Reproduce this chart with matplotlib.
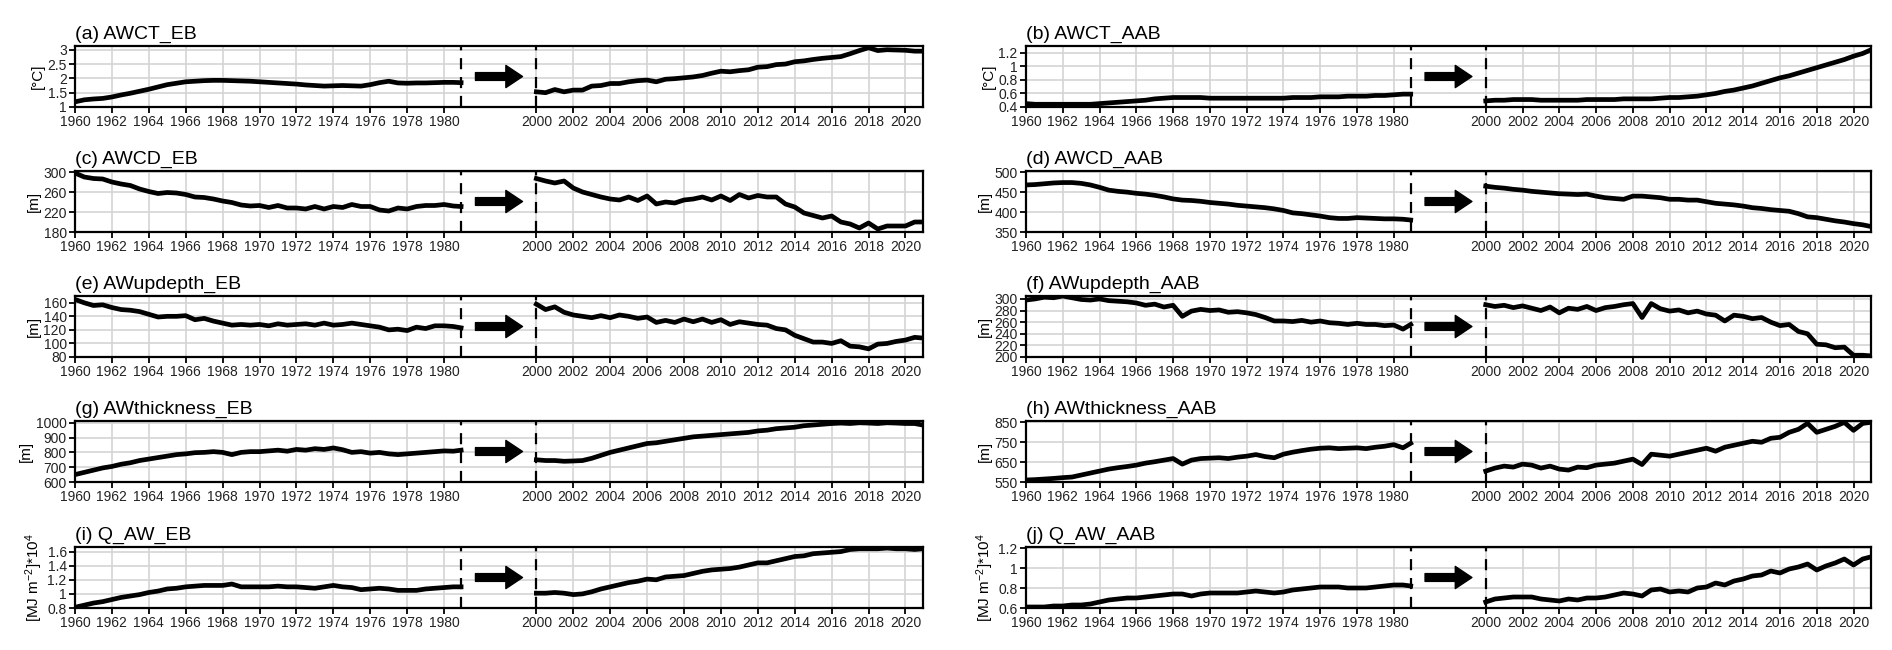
import numpy as np
import matplotlib
matplotlib.use("Agg")
import matplotlib.pyplot as plt
from matplotlib.ticker import FuncFormatter

plt.rcParams['font.family'] = ['Liberation Sans', 'DejaVu Sans']
plt.rcParams['mathtext.default'] = 'regular'

# ---------------- time axes (half-yearly readings) ----------------
t_early = [1960.0 + 0.5 * i for i in range(42)] + [1980.92]
t_late = [2000.0 + 0.5 * i for i in range(42)] + [2020.92]

# ---------------- series ----------------
awct_eb_early = [1.18, 1.25, 1.28, 1.30, 1.35, 1.42, 1.48, 1.55, 1.62, 1.70, 1.78, 1.83, 1.88, 1.90,
                 1.92, 1.93, 1.93, 1.92, 1.91, 1.90, 1.88, 1.86, 1.84, 1.82, 1.80, 1.77, 1.75, 1.73,
                 1.74, 1.75, 1.74, 1.73, 1.78, 1.85, 1.90, 1.84, 1.83, 1.84, 1.84, 1.85, 1.86, 1.86, 1.85]
awct_eb_late = [1.53, 1.50, 1.61, 1.53, 1.59, 1.59, 1.73, 1.75, 1.82, 1.82, 1.88, 1.92, 1.94, 1.88,
                1.97, 1.99, 2.02, 2.05, 2.10, 2.18, 2.25, 2.23, 2.27, 2.30, 2.39, 2.41, 2.48, 2.50,
                2.58, 2.61, 2.66, 2.70, 2.73, 2.76, 2.86, 2.97, 3.07, 2.97, 3.00, 2.99, 2.98, 2.95, 2.95]

awct_aab_early = [0.45, 0.44, 0.44, 0.44, 0.44, 0.44, 0.44, 0.44, 0.45, 0.46, 0.47, 0.48, 0.49, 0.50,
                  0.52, 0.53, 0.54, 0.54, 0.54, 0.54, 0.53, 0.53, 0.53, 0.53, 0.53, 0.53, 0.53, 0.53,
                  0.53, 0.54, 0.54, 0.54, 0.55, 0.55, 0.55, 0.56, 0.56, 0.56, 0.57, 0.57, 0.58, 0.59, 0.59]
awct_aab_late = [0.49, 0.50, 0.50, 0.51, 0.51, 0.51, 0.50, 0.50, 0.50, 0.50, 0.50, 0.51, 0.51, 0.51,
                 0.51, 0.52, 0.52, 0.52, 0.52, 0.53, 0.54, 0.54, 0.55, 0.56, 0.58, 0.60, 0.63, 0.65,
                 0.68, 0.71, 0.75, 0.79, 0.83, 0.86, 0.90, 0.94, 0.98, 1.02, 1.06, 1.10, 1.15, 1.19, 1.24]

awcd_eb_early = [298, 290, 287, 286, 280, 276, 273, 266, 261, 257, 259, 258, 255, 250,
                 249, 246, 242, 239, 234, 232, 233, 229, 233, 228, 228, 226, 231, 226,
                 231, 229, 235, 231, 231, 224, 222, 228, 226, 231, 233, 233, 235, 232, 231]
awcd_eb_late = [287, 282, 278, 282, 268, 260, 255, 250, 246, 244, 250, 243, 252, 236,
                240, 238, 244, 246, 250, 244, 252, 243, 255, 248, 253, 250, 250, 236,
                230, 218, 213, 208, 212, 200, 196, 188, 198, 186, 192, 192, 192, 200, 200]

awcd_aab_early = [468, 469, 471, 473, 474, 474, 472, 468, 462, 455, 452, 450, 447, 445,
                  442, 438, 433, 430, 429, 427, 424, 422, 420, 417, 415, 413, 411, 408,
                  404, 398, 396, 393, 390, 386, 384, 384, 386, 385, 384, 383, 383, 382, 380]
awcd_aab_late = [465, 462, 460, 457, 455, 452, 450, 448, 446, 445, 444, 445, 440, 436,
                 434, 432, 440, 440, 438, 436, 432, 432, 430, 430, 426, 422, 420, 418,
                 415, 411, 409, 406, 404, 402, 396, 388, 386, 382, 378, 375, 371, 368, 364]

awup_eb_early = [165, 160, 156, 157, 153, 150, 149, 147, 143, 139, 140, 140, 141, 135,
                 137, 133, 130, 127, 128, 127, 128, 126, 129, 127, 128, 129, 127, 130,
                 127, 128, 130, 128, 126, 124, 120, 121, 119, 124, 122, 126, 126, 125, 123]
awup_eb_late = [158, 150, 154, 146, 142, 140, 138, 141, 138, 142, 140, 137, 139, 131,
                134, 131, 136, 132, 136, 131, 135, 128, 132, 130, 128, 127, 122, 120,
                112, 107, 102, 102, 100, 104, 96, 95, 92, 99, 100, 103, 105, 109, 108]

awup_aab_early = [298, 300, 303, 302, 305, 302, 299, 298, 300, 297, 296, 295, 293, 289,
                  291, 286, 289, 270, 279, 282, 280, 281, 277, 278, 276, 273, 268, 262,
                  262, 261, 263, 260, 262, 259, 258, 256, 258, 256, 256, 254, 255, 248, 256]
awup_aab_late = [290, 287, 289, 285, 288, 284, 280, 286, 276, 284, 282, 287, 280, 285,
                 287, 290, 292, 268, 292, 283, 279, 281, 276, 279, 274, 272, 262, 272,
                 270, 266, 268, 260, 254, 256, 244, 240, 222, 221, 216, 217, 203, 203, 202]

awth_eb_early = [650, 665, 680, 695, 705, 720, 730, 745, 755, 765, 775, 785, 790, 798,
                 800, 805, 800, 785, 800, 805, 805, 810, 815, 808, 820, 815, 825, 820,
                 830, 818, 800, 805, 795, 800, 790, 785, 790, 795, 800, 805, 810, 808, 815]
awth_eb_late = [750, 745, 745, 740, 742, 745, 760, 780, 800, 815, 830, 845, 860, 865,
                875, 885, 895, 905, 910, 915, 920, 925, 930, 935, 945, 950, 960, 965,
                970, 980, 985, 990, 995, 998, 995, 1000, 998, 995, 1000, 998, 995, 995, 985]

awth_aab_early = [560, 562, 565, 568, 572, 575, 585, 595, 605, 615, 622, 628, 635, 645,
                  652, 660, 668, 640, 660, 668, 670, 672, 668, 675, 680, 688, 678, 672,
                  690, 700, 708, 715, 720, 722, 718, 720, 722, 718, 725, 730, 738, 722, 745]
awth_aab_late = [605, 620, 630, 625, 640, 635, 620, 630, 615, 610, 625, 622, 635, 640,
                 645, 655, 665, 638, 690, 685, 680, 690, 700, 710, 720, 705, 725, 735,
                 745, 755, 750, 770, 775, 800, 815, 845, 800, 815, 830, 850, 810, 845, 850]

qaw_eb_early = [0.81, 0.84, 0.87, 0.89, 0.92, 0.95, 0.97, 0.99, 1.02, 1.04, 1.07, 1.08, 1.10, 1.11,
                1.12, 1.12, 1.12, 1.14, 1.10, 1.10, 1.10, 1.10, 1.11, 1.10, 1.10, 1.09, 1.08, 1.10,
                1.12, 1.10, 1.09, 1.06, 1.07, 1.08, 1.07, 1.05, 1.05, 1.05, 1.07, 1.08, 1.09, 1.10, 1.10]
qaw_eb_late = [1.01, 1.01, 1.02, 1.01, 0.99, 1.00, 1.03, 1.07, 1.10, 1.13, 1.16, 1.18, 1.21, 1.20,
               1.24, 1.25, 1.26, 1.29, 1.32, 1.34, 1.35, 1.36, 1.38, 1.41, 1.44, 1.44, 1.47, 1.50,
               1.53, 1.54, 1.57, 1.58, 1.59, 1.60, 1.63, 1.64, 1.64, 1.64, 1.65, 1.64, 1.64, 1.63, 1.64]

qaw_aab_early = [0.61, 0.61, 0.61, 0.62, 0.62, 0.63, 0.63, 0.64, 0.66, 0.68, 0.69, 0.70, 0.70, 0.71,
                 0.72, 0.73, 0.74, 0.74, 0.72, 0.74, 0.75, 0.75, 0.75, 0.75, 0.76, 0.77, 0.76, 0.75,
                 0.76, 0.78, 0.79, 0.80, 0.81, 0.81, 0.81, 0.80, 0.80, 0.80, 0.81, 0.82, 0.83, 0.83, 0.82]
qaw_aab_late = [0.66, 0.69, 0.70, 0.71, 0.71, 0.71, 0.69, 0.68, 0.67, 0.69, 0.68, 0.70, 0.70, 0.71,
                0.73, 0.75, 0.74, 0.72, 0.78, 0.79, 0.76, 0.77, 0.76, 0.80, 0.81, 0.85, 0.83, 0.87,
                0.89, 0.92, 0.93, 0.97, 0.95, 0.99, 1.01, 1.04, 0.98, 1.02, 1.05, 1.09, 1.03, 1.09, 1.11]

titles = ['(a) AWCT_EB', '(b) AWCT_AAB', '(c) AWCD_EB', '(d) AWCD_AAB',
          '(e) AWupdepth_EB', '(f) AWupdepth_AAB', '(g) AWthickness_EB', '(h) AWthickness_AAB',
          '(i) Q_AW_EB', '(j) Q_AW_AAB']
ylabels = ['[°C]', '[°C]', '[m]', '[m]', '[m]', '[m]', '[m]', '[m]',
           '[MJ m$^{-2}$]*10$^4$', '[MJ m$^{-2}$]*10$^4$']
yticks = [[1, 1.5, 2, 2.5, 3], [0.4, 0.6, 0.8, 1, 1.2], [180, 220, 260, 300], [350, 400, 450, 500],
          [80, 100, 120, 140, 160], [200, 220, 240, 260, 280, 300], [600, 700, 800, 900, 1000],
          [550, 650, 750, 850], [0.8, 1, 1.2, 1.4, 1.6], [0.6, 0.8, 1, 1.2]]
ylims = [(1, 3.13), (0.4, 1.3), (180, 302), (350, 503), (80, 170), (200, 305),
         (600, 1012), (550, 857), (0.8, 1.665), (0.6, 1.21)]
series = [(awct_eb_early, awct_eb_late), (awct_aab_early, awct_aab_late),
          (awcd_eb_early, awcd_eb_late), (awcd_aab_early, awcd_aab_late),
          (awup_eb_early, awup_eb_late), (awup_aab_early, awup_aab_late),
          (awth_eb_early, awth_eb_late), (awth_aab_early, awth_aab_late),
          (qaw_eb_early, qaw_eb_late), (qaw_aab_early, qaw_aab_late)]

tick_years_early = list(range(1960, 1981, 2))
tick_years_late = list(range(2000, 2021, 2))
GAP = 15.0  # years removed between the two periods on the axis


def shift(years):
    return [y - GAP for y in years]


W, H = 1892, 650
fig = plt.figure(figsize=(W / 100, H / 100), dpi=100)

col_left = [75, 1026]
col_width = [848, 845]
row_tops = [46, 171, 296, 421, 547]
ax_h = 61

for k in range(10):
    r, c = divmod(k, 2)
    ax = fig.add_axes([col_left[c] / W, 1 - (row_tops[r] + ax_h) / H,
                       col_width[c] / W, ax_h / H])
    early, late = series[k]
    ax.plot(t_early, early, color='black', lw=3.4, solid_joinstyle='round', zorder=3)
    ax.plot(shift(t_late), late, color='black', lw=3.4, solid_joinstyle='round', zorder=3)
    ax.set_xlim(1960, 2020.95 - GAP)
    ax.set_ylim(*ylims[k])
    xt = tick_years_early + shift(tick_years_late)
    ax.set_xticks(xt)
    ax.set_xticklabels([str(y) for y in tick_years_early + tick_years_late])
    ax.set_yticks(yticks[k])
    ax.yaxis.set_major_formatter(FuncFormatter(lambda v, p: '%g' % v))
    ax.grid(True, color='#d4d4d4', lw=1.2, zorder=0)
    ax.tick_params(direction='out', length=4, width=1.3, labelsize=10, pad=2,
                   colors='black', labelcolor='#222222')
    for s in ax.spines.values():
        s.set_linewidth(1.6)
    ax.axvline(t_early[-1], color='black', lw=1.6, ls=(0, (5, 3.5)), zorder=4)
    ax.axvline(2000 - GAP, color='black', lw=1.6, ls=(0, (5, 3.5)), zorder=4)
    ax.annotate('', xy=(1984.25, 0.5), xytext=(1981.7, 0.5),
                xycoords=('data', 'axes fraction'), textcoords=('data', 'axes fraction'),
                arrowprops=dict(arrowstyle='simple,head_length=0.75,head_width=1.0,tail_width=0.35',
                                fc='black', ec='black', mutation_scale=16,
                                shrinkA=0, shrinkB=0), zorder=5)
    ax.set_title(titles[k], loc='left', fontsize=14, pad=5)
    ax.set_ylabel(ylabels[k], fontsize=11, labelpad=2)

fig.savefig('out.png', dpi=100)
